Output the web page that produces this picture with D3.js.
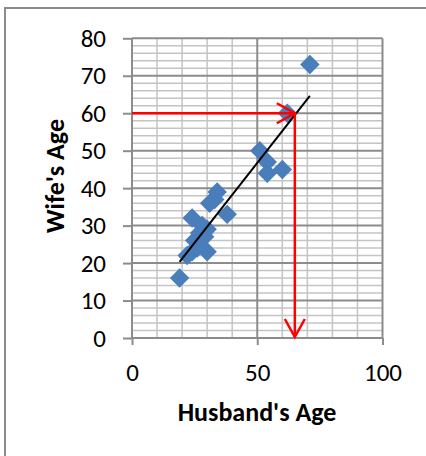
<!DOCTYPE html>
<html><head><meta charset="utf-8">
<script src="https://cdnjs.cloudflare.com/ajax/libs/d3/7.8.5/d3.min.js"></script>
<style>
html,body{margin:0;padding:0;background:#fff;overflow:hidden}
svg{display:block}
text{font-family:Calibri,Carlito,Lato,"Open Sans",sans-serif}
</style></head><body>
<svg id="c" width="426" height="456"></svg>
<script>
// ---- data ----
const husbandAge = [19,22,24,26,25,27,29,30,28,30,24,31,34,33,38,51,54,54,60,62,71];
const wifeAge    = [16,22,23,24,26,28,27,23,30,29,32,36,39,37,33,50,47,44,45,60,73];
const xTicks = [0,50,100];
const yTicks = [0,10,20,30,40,50,60,70,80];
const xMinorTicks = [0,10,20,30,40,50,60,70,80,90,100];
const yMinorTicks = d3.range(0,82,2);
const readWife = [60];
const readHusband = [65];  // -> husband's age 65
const xTitle = "Husband's Age";
const yTitle = "Wife's Age";

// ---- layout ----
const svg = d3.select('#c');
const L=132, R=382.5, T=38.3, B=338;
const x = d3.scaleLinear().domain([0,100]).range([L,R]);
const y = d3.scaleLinear().domain([0,80]).range([B,T]);

// outer chart border
svg.append('rect').attr('x',5).attr('y',8).attr('width',500).attr('height',500)
  .attr('fill','#fff').attr('stroke','#8a8a8a').attr('stroke-width',2);

// minor grid
const g = svg.append('g');
g.selectAll('.hm').data(yMinorTicks.filter(v=>v%10!==0)).join('line')
  .attr('x1',L).attr('x2',R).attr('y1',d=>y(d)).attr('y2',d=>y(d))
  .attr('stroke','#c4c4c4').attr('stroke-width',1.5);
g.selectAll('.vm').data(xMinorTicks.filter(v=>v%50!==0)).join('line')
  .attr('y1',T).attr('y2',B).attr('x1',d=>x(d)).attr('x2',d=>x(d))
  .attr('stroke','#c4c4c4').attr('stroke-width',1.5);
// major grid
g.selectAll('.hM').data(yTicks).join('line')
  .attr('x1',L).attr('x2',R).attr('y1',d=>y(d)).attr('y2',d=>y(d))
  .attr('stroke','#8c8c8c').attr('stroke-width',2);
g.selectAll('.vM').data(xTicks).join('line')
  .attr('y1',T).attr('y2',B).attr('x1',d=>x(d)).attr('x2',d=>x(d))
  .attr('stroke','#8c8c8c').attr('stroke-width',2);

// axes
const ya = svg.append('g').attr('transform',`translate(${L},0)`)
  .call(d3.axisLeft(y).tickValues(yTicks).tickSize(9).tickPadding(17).tickFormat(d3.format('d')));
const xa = svg.append('g').attr('transform',`translate(0,${B})`)
  .call(d3.axisBottom(x).tickValues(xTicks).tickSize(7).tickPadding(18).tickFormat(d3.format('d')));
[ya,xa].forEach(a=>{
  a.select('.domain').remove();
  a.selectAll('.tick line').attr('stroke','#8c8c8c').attr('stroke-width',2);
  a.selectAll('text').attr('font-size',25).attr('fill','#000')
   .style('font-family','Calibri,Carlito,Lato,sans-serif');
});

// points
const pts = husbandAge.map((h,i)=>({h, w:wifeAge[i]}));
const diamond = d3.symbol().type(d3.symbolSquare).size(190);
svg.append('g').selectAll('path').data(pts).join('path')
  .attr('d',diamond)
  .attr('transform',d=>`translate(${x(d.h)},${y(d.w)}) rotate(45)`)
  .attr('fill','#4a7ebb');

// linear trend line
const mx=d3.mean(husbandAge), my=d3.mean(wifeAge);
let sxy=0,sxx=0; husbandAge.forEach((h,i)=>{sxy+=(h-mx)*(wifeAge[i]-my);sxx+=(h-mx)*(h-mx);});
const slope=sxy/sxx, icpt=my-slope*mx;
const xe=d3.extent(husbandAge);
svg.append('line').attr('x1',x(xe[0])).attr('y1',y(icpt+slope*xe[0]))
  .attr('x2',x(xe[1])).attr('y2',y(icpt+slope*xe[1]))
  .attr('stroke','#000').attr('stroke-width',2);

// red reading arrows
const red = svg.append('g').attr('stroke','#ff0000').attr('stroke-width',2.5).attr('fill','none');
const hx=x(readHusband[0]), wy=y(readWife[0]);
red.append('line').attr('x1',x(0)).attr('y1',wy).attr('x2',hx).attr('y2',wy);
red.append('polyline').attr('points',`${hx-18},${wy-10} ${hx},${wy} ${hx-18},${wy+10}`);
red.append('line').attr('x1',hx).attr('y1',wy).attr('x2',hx).attr('y2',y(0)-1);
red.append('polyline').attr('points',`${hx-10},${y(0)-19} ${hx},${y(0)-1} ${hx+10},${y(0)-19}`);

// titles
svg.append('text').attr('x',257).attr('y',421).attr('text-anchor','middle')
  .attr('font-size',26).attr('font-weight','bold').text(xTitle);
svg.append('text').attr('transform',`translate(64,176) rotate(-90)`).attr('text-anchor','middle')
  .attr('font-size',26).attr('font-weight','bold').text(yTitle);
</script></body></html>
